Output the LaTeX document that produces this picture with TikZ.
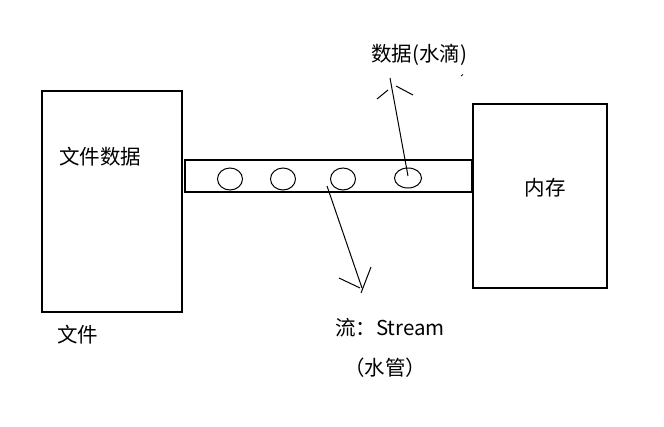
\documentclass[tikz,border=0pt]{standalone}
\usetikzlibrary{shapes.geometric}
\usepackage{fontspec}
\setmainfont{Noto Sans CJK SC}
\begin{document}
\begin{tikzpicture}[x=1pt,y=-1pt,
  box/.style={draw,line width=1.3pt,inner sep=0pt,rectangle},
  drop/.style={draw,line width=1.0pt,ellipse,inner sep=0pt},
  stroke/.style={line width=1.0pt},
  lbl/.style={inner sep=0pt,font=\fontsize{20.5}{24}\selectfont}]
\useasboundingbox (0,0) rectangle (664,426);
\fill[white] (0,0) rectangle (664,426);
% boxes
\node[box,minimum width=140pt,minimum height=221pt] (file) at (112,201.5) {};
\node[box,minimum width=287pt,minimum height=32pt] (pipe) at (328.5,176) {};
\node[box,minimum width=134pt,minimum height=184pt] (mem) at (540,196) {};
\draw[line width=2.6pt] (pipe.north east) -- (pipe.south east);
% drops
\node[drop,minimum width=25pt,minimum height=22pt] (d1) at (230,179) {};
\node[drop,minimum width=25pt,minimum height=22pt] (d2) at (283,179) {};
\node[drop,minimum width=25pt,minimum height=22pt] (d3) at (343,179) {};
\node[drop,minimum width=27pt,minimum height=20pt] (d4) at (408,178) {};
% labels
\node[lbl] (tdrop) at (419,55) {数据(水滴)};
\node[lbl,anchor=west] (tfd) at (59,157) {文件数据};
\node[lbl] (tmem) at (545,188) {内存};
\node[lbl,anchor=west] (tfile) at (57,335) {文件};
\node[lbl,anchor=west] (tstream) at (335,328) {流：Stream};
\node[lbl] (tpipe) at (385,368) {（水管）};
% up arrow (hand drawn)
\coordinate (uTop) at (390,78);
\draw[stroke] (d4.center) ++(0,-2) -- (uTop);
\draw[stroke] (377,99) -- (388,90);
\draw[stroke] (396,86) -- (413,95);
\draw[line width=0.8pt] (461,76) -- (463,74.5);
% down arrow
\coordinate (dStart) at (327,186);
\coordinate (dEnd) at (362,288);
\draw[stroke] (dStart) -- (dEnd);
\draw[stroke] (339,278) -- (360,288);
\draw[stroke] (371,267) -- (361,293);
\end{tikzpicture}
\end{document}
